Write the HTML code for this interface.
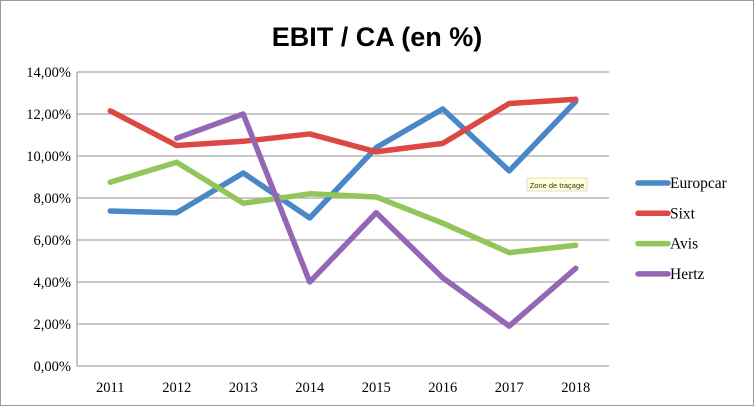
<!DOCTYPE html>
<html><head><meta charset="utf-8"><style>
html,body{margin:0;padding:0;background:#fff}
svg{display:block;font-family:"Liberation Serif",serif}
</style></head><body>
<svg id="chart" width="754" height="406" viewBox="0 0 754 406">
<rect x="0.5" y="0.5" width="753" height="405" fill="#fff" stroke="#999"/>
<text x="377" y="46" text-anchor="middle" font-size="27" font-weight="bold" font-family="Liberation Sans,sans-serif" fill="#000">EBIT / CA (en %)</text>
<g id="grid"></g><g id="series"></g><g id="legend"></g>
<rect x="527" y="178" width="60" height="13" fill="#ffffd0" stroke="#ddd"/>
<text x="557" y="188" text-anchor="middle" font-size="7.5" font-family="Liberation Sans,sans-serif" fill="#333">Zone de traçage</text>
</svg>
<script>
const categories=["2011","2012","2013","2014","2015","2016","2017","2018"];
const europcar=[7.38,7.3,9.19,7.05,10.4,12.24,9.29,12.6];
const sixt=[12.15,10.5,10.7,11.05,10.2,10.6,12.5,12.7];
const avis=[8.75,9.7,7.75,8.2,8.05,6.8,5.4,5.75];
const hertz=[null,10.85,12.0,4.0,7.3,4.2,1.9,4.65];
const yTicks=[0,2,4,6,8,10,12,14];
const yTickLabels=["0,00%","2,00%","4,00%","6,00%","8,00%","10,00%","12,00%","14,00%"];
const seriesNames=["Europcar","Sixt","Avis","Hertz"];
const NS="http://www.w3.org/2000/svg";
const L=77,R=609,T=72,B=366,yMax=14;
const bw=(R-L)/categories.length;
function x(i){return L+bw*(i+0.5);}
function y(v){return B-(v/yMax)*(B-T);}
function mk(tag,attrs,parent){const e=document.createElementNS(NS,tag);for(const k in attrs)e.setAttribute(k,attrs[k]);parent.appendChild(e);return e;}
const grid=document.getElementById('grid');
yTicks.forEach((t,i)=>{
  const ln=mk('line',{x1:L,x2:R,y1:y(t),y2:y(t),stroke:'#a6a6a6','stroke-width':1.3},grid);
  
  
  const tx=mk('text',{x:L-6,y:y(t)+5,'text-anchor':'end','font-size':14.5,fill:'#000'},grid);
  tx.textContent=yTickLabels[i];
  
  
});
const ax=mk('line',{x1:L,x2:L,y1:T,y2:B,stroke:'#a6a6a6','stroke-width':1.3},grid);


categories.forEach((c,i)=>{
  const tx=mk('text',{x:x(i),y:392,'text-anchor':'middle','font-size':14.5,fill:'#000'},grid);
  tx.textContent=c;
  
  
});
const colors=["#4a87c6","#dc4945","#93c65a","#9467b4"];
const data=[europcar,sixt,avis,hertz];
const sg=document.getElementById('series'),lg=document.getElementById('legend');
data.forEach((arr,s)=>{
  let d="";let started=false;
  arr.forEach((v,i)=>{if(v==null)return;d+=(started?"L":"M")+x(i)+","+y(v);started=true;});
  const p=mk('path',{d:d,fill:'none',stroke:colors[s],'stroke-width':5.5,'stroke-linejoin':'round','stroke-linecap':'round'},sg);
  
  
  const ly=183+s*30.3;
  const ll=mk('line',{x1:638,x2:668,y1:ly,y2:ly,stroke:colors[s],'stroke-width':5.5,'stroke-linecap':'round'},lg);
  
  
  const lt=mk('text',{x:670,y:ly+5,'font-size':15.5,fill:'#000'},lg);
  lt.textContent=seriesNames[s];
  
  
});
</script>
</body></html>
